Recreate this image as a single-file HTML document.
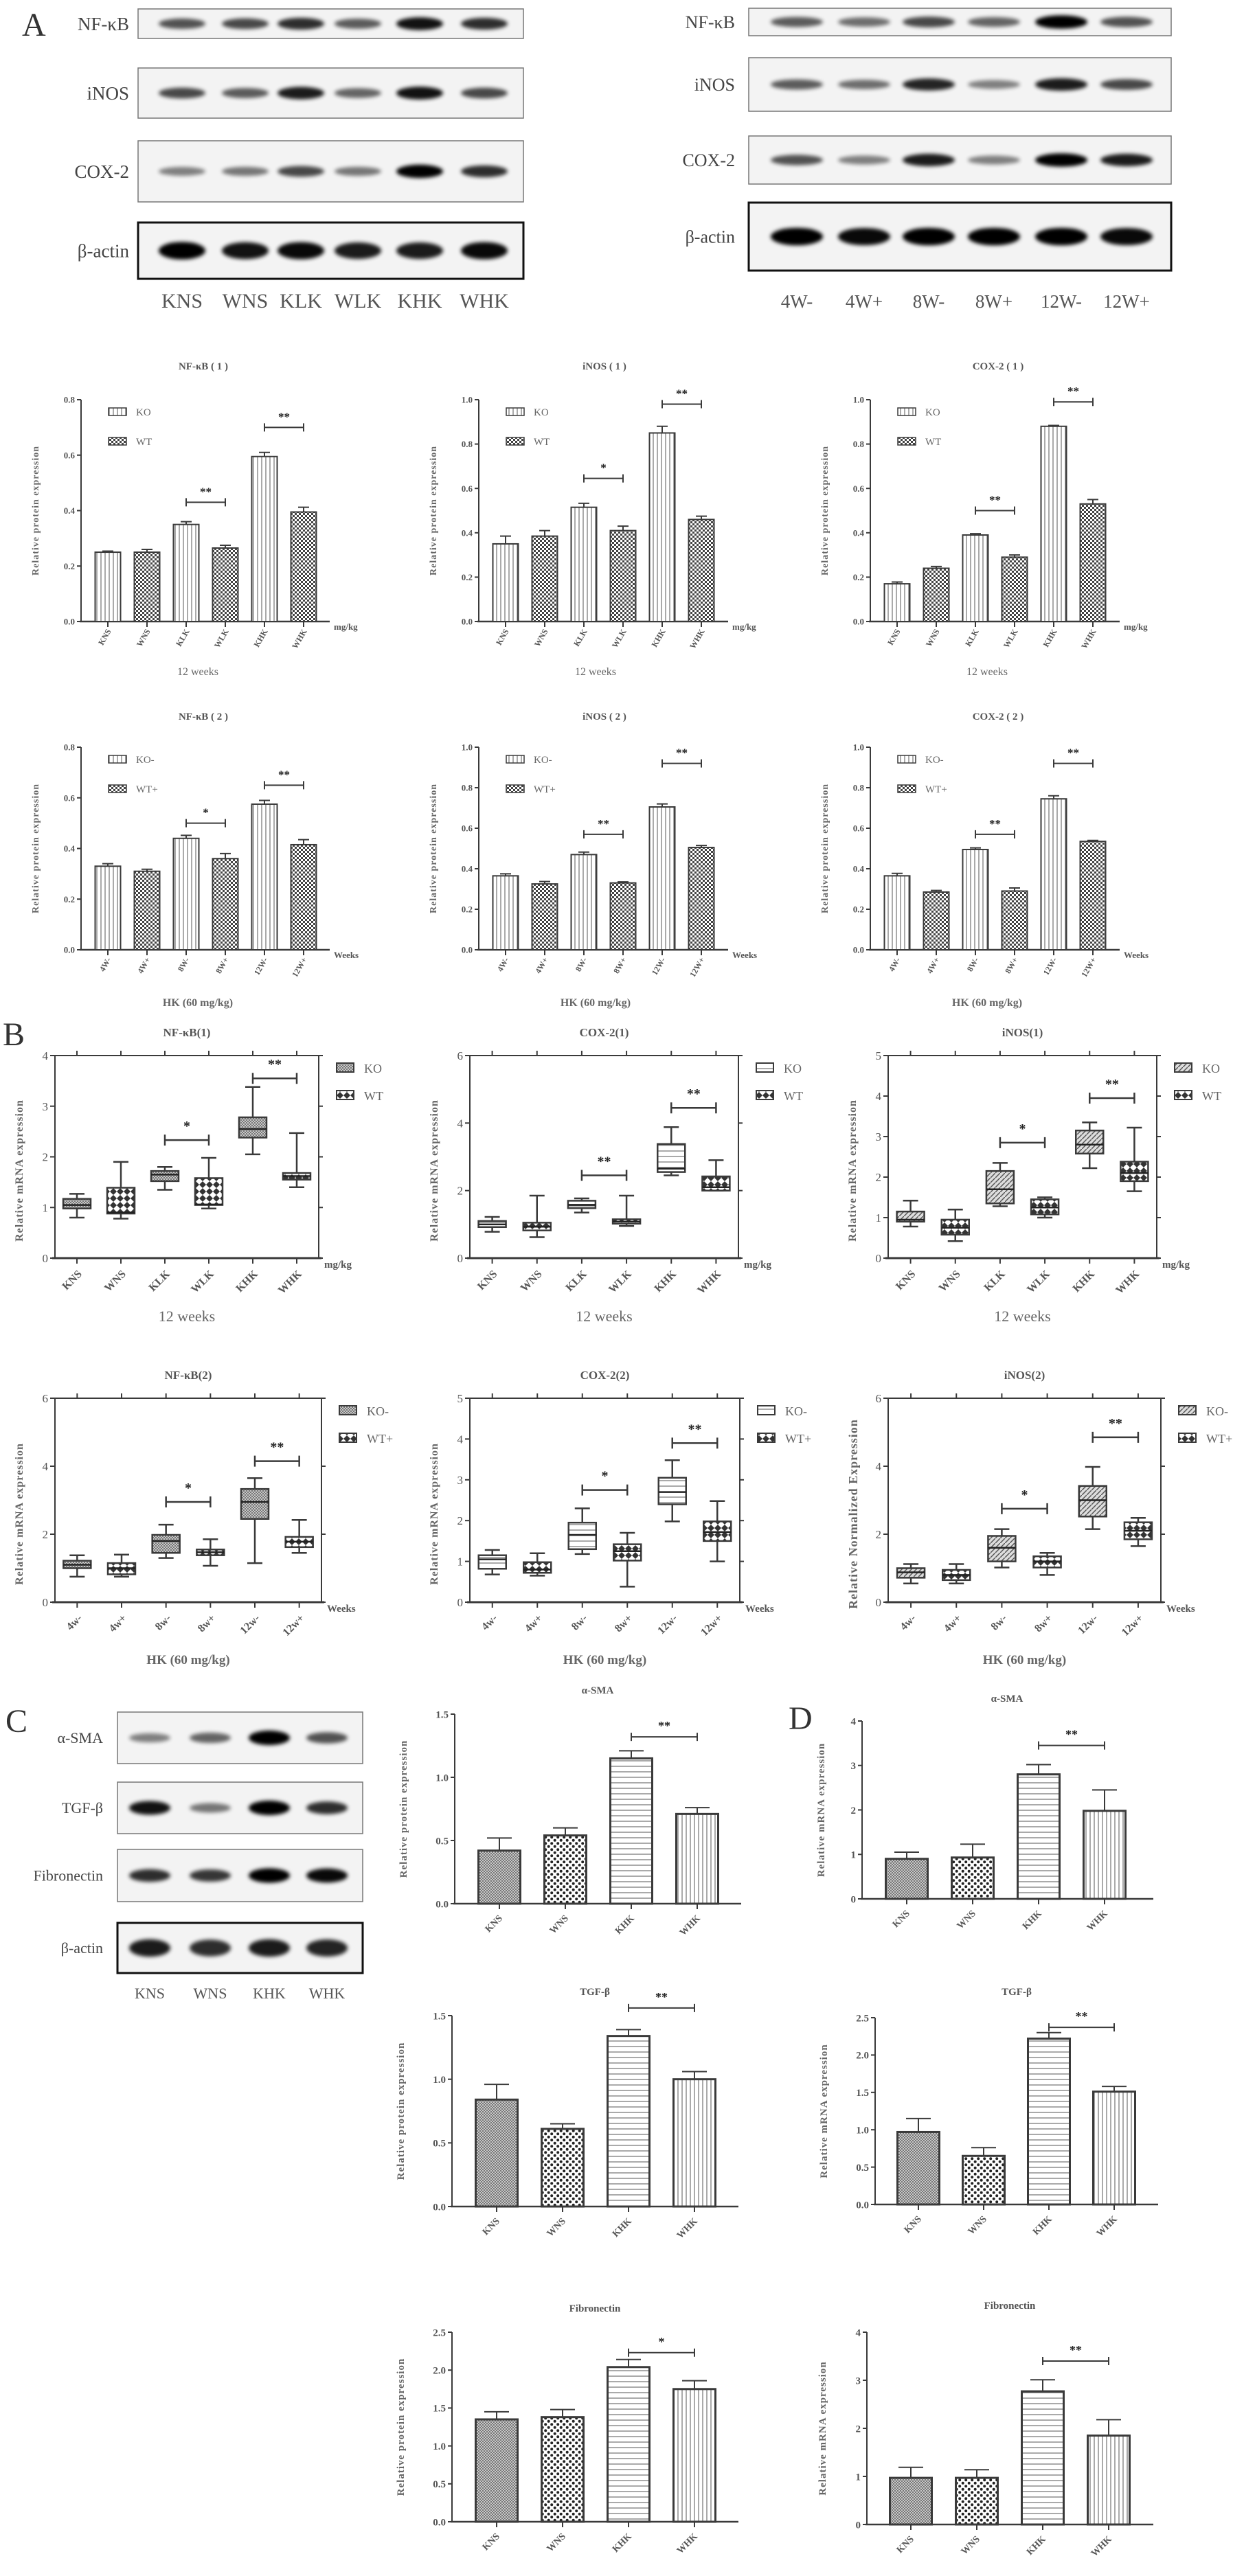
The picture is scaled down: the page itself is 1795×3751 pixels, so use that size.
<!DOCTYPE html>
<html><head><meta charset="utf-8"><title>Figure</title>
<style>
html,body{margin:0;padding:0;background:#fff;}
svg{display:block;}
text{font-family:"Liberation Serif",serif;}
</style></head>
<body>
<svg id="fig" xmlns="http://www.w3.org/2000/svg" width="1795" height="3751" viewBox="0 0 1795 3751">
<defs>
<filter id="blur" x="-50%" y="-200%" width="200%" height="500%"><feGaussianBlur stdDeviation="3"/></filter>
<pattern id="pV" width="6" height="6" patternUnits="userSpaceOnUse"><rect width="6" height="6" fill="#fff"/><line x1="3" y1="0" x2="3" y2="6" stroke="#555" stroke-width="1"/></pattern>
<pattern id="pH" width="8" height="8" patternUnits="userSpaceOnUse"><rect width="8" height="8" fill="#fff"/><line x1="0" y1="4" x2="8" y2="4" stroke="#555" stroke-width="1"/></pattern>
<pattern id="pChk" width="6" height="6" patternUnits="userSpaceOnUse"><rect width="6" height="6" fill="#fff"/><rect width="3" height="3" fill="#444"/><rect x="3" y="3" width="3" height="3" fill="#444"/></pattern>
<pattern id="pFine" width="4" height="4" patternUnits="userSpaceOnUse"><rect width="4" height="4" fill="#c8c8c8"/><rect width="2" height="2" fill="#777"/><rect x="2" y="2" width="2" height="2" fill="#777"/></pattern>
<pattern id="pDots" width="9" height="9" patternUnits="userSpaceOnUse"><rect width="9" height="9" fill="#fff"/><circle cx="2.2" cy="2.2" r="2" fill="#222"/><circle cx="6.7" cy="6.7" r="2" fill="#222"/></pattern>
<pattern id="pDiag" width="7" height="7" patternUnits="userSpaceOnUse"><rect width="7" height="7" fill="#ddd"/><line x1="0" y1="7" x2="7" y2="0" stroke="#555" stroke-width="1.5"/></pattern>
<pattern id="pBoxWT" width="10" height="10" patternUnits="userSpaceOnUse"><rect width="10" height="10" fill="#fff"/><path d="M5 0 L10 5 L5 10 L0 5Z" fill="#333"/></pattern>
</defs>
</svg>
<script>
// ---------------- DATA ----------------
const catsA1 = ['KNS','WNS','KLK','WLK','KHK','WHK'];
const catsA2 = ['4W-','4W+','8W-','8W+','12W-','12W+'];
const catsB2 = ['4w-','4w+','8w-','8w+','12w-','12w+'];
const catsCD = ['KNS','WNS','KHK','WHK'];
const legendA1 = ['KO','WT'];
const legendA2 = ['KO-','WT+'];

const nf1Vals = [0.25,0.25,0.35,0.265,0.595,0.395];
const nf1Errs = [0.004,0.01,0.01,0.01,0.015,0.017];
const nf1Brackets = [[2,3,0.43,'**'],[4,5,0.70,'**']];
const inos1Vals = [0.35,0.385,0.515,0.41,0.85,0.46];
const inos1Errs = [0.035,0.025,0.018,0.02,0.03,0.015];
const inos1Brackets = [[2,3,0.645,'*'],[4,5,0.98,'**']];
const cox1Vals = [0.17,0.24,0.39,0.29,0.88,0.53];
const cox1Errs = [0.008,0.008,0.006,0.01,0.004,0.02];
const cox1Brackets = [[2,3,0.50,'**'],[4,5,0.99,'**']];

const nf2Vals = [0.33,0.31,0.44,0.36,0.575,0.415];
const nf2Errs = [0.01,0.008,0.012,0.02,0.015,0.02];
const nf2Brackets = [[2,3,0.50,'*'],[4,5,0.65,'**']];
const inos2Vals = [0.365,0.325,0.47,0.33,0.705,0.505];
const inos2Errs = [0.01,0.012,0.012,0.005,0.015,0.01];
const inos2Brackets = [[2,3,0.57,'**'],[4,5,0.92,'**']];
const cox2Vals = [0.365,0.285,0.495,0.29,0.745,0.535];
const cox2Errs = [0.012,0.008,0.008,0.015,0.015,0.005];
const cox2Brackets = [[2,3,0.57,'**'],[4,5,0.92,'**']];

const ticksA08 = [0,0.2,0.4,0.6,0.8];
const ticksA10 = [0,0.2,0.4,0.6,0.8,1.0];

// box plots
const bNf1Lo=[0.8,0.78,1.35,0.98,2.05,1.4], bNf1Q1=[0.98,0.88,1.52,1.05,2.38,1.55], bNf1Med=[1.05,0.9,1.65,1.06,2.55,1.62], bNf1Q3=[1.17,1.39,1.72,1.58,2.78,1.68], bNf1Hi=[1.27,1.9,1.8,1.98,3.38,2.47];
const bNf1Br=[[2,3,2.33,'*'],[4,5,3.55,'**']];
const bCox1Lo=[0.78,0.62,1.35,0.95,2.45,2.0], bCox1Q1=[0.92,0.82,1.48,1.02,2.55,2.0], bCox1Med=[1.0,0.93,1.58,1.08,2.65,2.1], bCox1Q3=[1.1,1.05,1.7,1.15,3.38,2.42], bCox1Hi=[1.22,1.85,1.77,1.85,3.88,2.9];
const bCox1Br=[[2,3,2.45,'**'],[4,5,4.45,'**']];
const bInos1Lo=[0.78,0.42,1.28,1.0,2.22,1.65], bInos1Q1=[0.9,0.58,1.35,1.08,2.58,1.9], bInos1Med=[0.95,0.75,1.7,1.25,2.8,2.1], bInos1Q3=[1.15,0.95,2.15,1.45,3.15,2.38], bInos1Hi=[1.42,1.2,2.35,1.5,3.35,3.22];
const bInos1Br=[[2,3,2.85,'*'],[4,5,3.95,'**']];

const bNf2Lo=[0.75,0.75,1.3,1.07,1.15,1.45], bNf2Q1=[1.0,0.82,1.45,1.38,2.45,1.62], bNf2Med=[1.1,1.0,1.8,1.47,2.95,1.78], bNf2Q3=[1.22,1.15,1.98,1.55,3.33,1.92], bNf2Hi=[1.38,1.4,2.28,1.85,3.65,2.42];
const bNf2Br=[[2,3,2.95,'*'],[4,5,4.15,'**']];
const bCox2Lo=[0.68,0.65,1.18,0.38,1.98,1.0], bCox2Q1=[0.82,0.72,1.3,1.02,2.4,1.5], bCox2Med=[1.05,0.8,1.65,1.25,2.7,1.72], bCox2Q3=[1.15,0.98,1.95,1.42,3.05,1.98], bCox2Hi=[1.28,1.2,2.3,1.7,3.48,2.48];
const bCox2Br=[[2,3,2.75,'*'],[4,5,3.9,'**']];
const bInos2Lo=[0.55,0.55,1.02,0.8,2.15,1.65], bInos2Q1=[0.72,0.65,1.2,1.02,2.52,1.85], bInos2Med=[0.88,0.8,1.6,1.2,3.0,2.1], bInos2Q3=[1.0,0.95,1.95,1.35,3.42,2.35], bInos2Hi=[1.12,1.12,2.15,1.45,3.98,2.48];
const bInos2Br=[[2,3,2.75,'*'],[4,5,4.85,'**']];

const cAsmaVals=[0.42,0.54,1.15,0.71], cAsmaErrs=[0.1,0.06,0.06,0.05], cAsmaBr=[[2,3,1.32,'**']];
const cTgfVals=[0.84,0.61,1.34,1.0], cTgfErrs=[0.12,0.04,0.05,0.06], cTgfBr=[[2,3,1.56,'**']];
const cFibVals=[1.35,1.38,2.04,1.75], cFibErrs=[0.1,0.1,0.1,0.11], cFibBr=[[2,3,2.23,'*']];
const dAsmaVals=[0.9,0.93,2.8,1.98], dAsmaErrs=[0.15,0.3,0.22,0.47], dAsmaBr=[[2,3,3.45,'**']];
const dTgfVals=[0.97,0.65,2.22,1.51], dTgfErrs=[0.18,0.11,0.08,0.07], dTgfBr=[[2,3,2.37,'**']];
const dFibVals=[0.97,0.97,2.77,1.85], dFibErrs=[0.22,0.17,0.24,0.33], dFibBr=[[2,3,3.4,'**']];
const ticks15=[0,0.5,1.0,1.5], ticks25=[0,0.5,1.0,1.5,2.0,2.5], ticks4=[0,1,2,3,4];

// blot band intensities (visual)
const blotA1Names=['NF-κB','iNOS','COX-2','β-actin'];
const blotA1Int=[[0.55,0.6,0.75,0.5,0.9,0.75],[0.6,0.5,0.85,0.45,0.9,0.6],[0.3,0.35,0.6,0.35,1,0.75],[1,0.9,0.95,0.85,0.85,0.95]];
const blotA2Int=[[0.5,0.4,0.6,0.45,1,0.55],[0.5,0.4,0.8,0.3,0.85,0.6],[0.55,0.3,0.85,0.3,1,0.85],[1,0.95,1,1,1,0.95]];
const blotCNames=['α-SMA','TGF-β','Fibronectin','β-actin'];
const blotCInt=[[0.3,0.45,1,0.55],[0.9,0.35,1,0.75],[0.75,0.7,1,0.95],[0.85,0.75,0.85,0.8]];

// ---------------- HELPERS ----------------
const NS='http://www.w3.org/2000/svg';
const svg=document.getElementById('fig');
function mk(tag,a,p){const e=document.createElementNS(NS,tag);for(const k in a)e.setAttribute(k,a[k]);(p||svg).appendChild(e);return e;}
function txt(s,a,p){const e=mk('text',a,p);e.textContent=s;return e;}
const INK='#3a3a3a', TXT='#555';

// ---------------- BLOTS ----------------
function blot(cfg){
  const g=mk('g',{});
  
  
  cfg.rows.forEach((r,ri)=>{
    const last=ri===cfg.rows.length-1;
    const box=mk('rect',{x:cfg.x0,y:r[0],width:cfg.x1-cfg.x0,height:r[1]-r[0],fill:'#f3f3f3',stroke:last?'#111':'#777','stroke-width':last?3:1.5},g);
    
    
    const lb=txt(cfg.names[ri],{x:cfg.labelX,y:(r[0]+r[1])/2+cfg.fs*0.35,'text-anchor':'end','font-size':cfg.fs,fill:'#444'},g);
    
    
    cfg.lanes.forEach((lx,li)=>{
      const v=cfg.int[ri][li];
      const b=mk('ellipse',{cx:lx,cy:(r[0]+r[1])/2,rx:cfg.bw,ry:(last?8:5)+v*4*(cfg.bh||1),fill:'#000',opacity:0.25+0.75*v,filter:'url(#blur)'},g);
      
      
    });
  });
  cfg.laneLabels.forEach((s,li)=>{
    const t=txt(s,{x:cfg.lanes[li],y:cfg.laneY,'text-anchor':'middle','font-size':cfg.lfs,fill:'#555'},g);
    
    
  });
}

// ---------------- BAR CHART ----------------
function barChart(c){
  const g=mk('g',{});
  
  
  const y=v=>c.zero-v/c.max*(c.zero-c.top);
  const x=i=>c.x0+c.off+i*c.step;
  const t=txt(c.title,{x:c.titleX,y:c.titleY,'text-anchor':'middle','font-size':c.tfs,'font-weight':'bold',fill:TXT},g);
  
  
  const ax=mk('line',{x1:c.x0,y1:c.zero,x2:c.x0,y2:c.top,stroke:INK,'stroke-width':2},g);
  
  
  const bx=mk('line',{x1:c.x0-2,y1:c.zero,x2:c.x1,y2:c.zero,stroke:INK,'stroke-width':2.5},g);
  
  
  c.ticks.forEach(v=>{
    const tk=mk('line',{x1:c.x0-6,y1:y(v),x2:c.x0,y2:y(v),stroke:INK,'stroke-width':2},g);
    
    
    const tl=txt(v.toFixed(c.dec),{x:c.x0-9,y:y(v)+c.kfs*0.35,'text-anchor':'end','font-size':c.kfs,'font-weight':'bold',fill:TXT},g);
    
    
  });
  const yl=txt(c.ylabel,{x:c.x0-c.ylOff,y:(c.top+c.zero)/2,'text-anchor':'middle','font-size':c.yfs,'font-weight':'bold',fill:'#666','letter-spacing':c.yls||1,transform:`rotate(-90 ${c.x0-c.ylOff} ${(c.top+c.zero)/2})`},g);
  
  
  c.vals.forEach((v,i)=>{
    const r=mk('rect',{x:x(i)-c.bw/2,y:y(v),width:c.bw,height:c.zero-y(v),fill:`url(#${c.fills[i%c.fills.length]})`,stroke:INK,'stroke-width':c.sw||2},g);
    
    
    const e=mk('path',{d:`M${x(i)} ${y(v)} V${y(v+c.errs[i])} M${x(i)-c.cap} ${y(v+c.errs[i])} H${x(i)+c.cap}`,stroke:INK,'stroke-width':2,fill:'none'},g);
    
    
    const tk=mk('line',{x1:x(i),y1:c.zero,x2:x(i),y2:c.zero+8,stroke:INK,'stroke-width':2},g);
    
    
    const lx=x(i)+5, ly=c.zero+c.lDy;
    const cl=txt(c.cats[i],{x:lx,y:ly,'text-anchor':'end','font-size':c.cfs,'font-weight':'bold',fill:TXT,transform:`rotate(${c.rot} ${lx} ${ly})`},g);
    
    
  });
  c.brackets.forEach(b=>{
    const yy=y(b[2]);
    const p=mk('path',{d:`M${x(b[0])} ${yy-6} V${yy+6} M${x(b[0])} ${yy} H${x(b[1])} M${x(b[1])} ${yy-6} V${yy+6}`,stroke:INK,'stroke-width':2,fill:'none'},g);
    
    
    const s=txt(b[3],{x:(x(b[0])+x(b[1]))/2,y:yy-10,'text-anchor':'middle','font-size':c.sfs,'font-weight':'bold',fill:'#222'},g);
    
    
  });
  if(c.legend){
    c.legend.forEach((s,i)=>{
      const ly=c.top+18+i*43;
      const r=mk('rect',{x:c.x0+40,y:ly-6,width:26,height:11,fill:`url(#${c.fills[i]})`,stroke:INK,'stroke-width':1.5},g);
      
      
      const lt=txt(s,{x:c.x0+80,y:ly+5,'font-size':15,fill:'#666'},g);
      
      
    });
  }
  if(c.unit){
    const u=txt(c.unit,{x:c.x1+6,y:c.zero+12,'font-size':13,'font-weight':'bold',fill:TXT},g);
    
    
  }
  if(c.footer){
    const f=txt(c.footer,{x:c.x0+170,y:c.zero+c.fDy,'text-anchor':'middle','font-size':c.ffs,'font-weight':c.fb?'bold':'normal',fill:'#666'},g);
    
    
  }
}

// ---------------- BOX CHART ----------------
function boxChart(c){
  const g=mk('g',{});
  
  
  const y=v=>c.zero-v/c.max*(c.zero-c.top);
  const step=(c.x1-c.x0)/6;
  const x=i=>c.x0+step/2+i*step;
  const t=txt(c.title,{x:(c.x0+c.x1)/2,y:c.top-28,'text-anchor':'middle','font-size':17,'font-weight':'bold',fill:TXT},g);
  
  
  const fr=mk('rect',{x:c.x0,y:c.top,width:c.x1-c.x0,height:c.zero-c.top,fill:'none',stroke:INK,'stroke-width':2},g);
  
  
  const bx=mk('line',{x1:c.x0-4,y1:c.zero,x2:c.x1+4,y2:c.zero,stroke:INK,'stroke-width':3},g);
  
  
  c.ticks.forEach(v=>{
    const tk=mk('line',{x1:c.x0-7,y1:y(v),x2:c.x0,y2:y(v),stroke:INK,'stroke-width':2},g);
    
    
    const tr=mk('line',{x1:c.x1,y1:y(v),x2:c.x1+6,y2:y(v),stroke:INK,'stroke-width':2},g);
    
    
    const tl=txt(String(v),{x:c.x0-10,y:y(v)+6,'text-anchor':'end','font-size':17,fill:TXT},g);
    
    
  });
  const ylx=c.x0-c.ylOff;
  const yl=txt(c.ylabel,{x:ylx,y:(c.top+c.zero)/2+20,'text-anchor':'middle','font-size':c.yfs||16,'font-weight':'bold',fill:'#666','font-family':c.ysans?'Liberation Sans, sans-serif':'Liberation Serif, serif','letter-spacing':1,transform:`rotate(-90 ${ylx} ${(c.top+c.zero)/2+20})`},g);
  
  
  c.cats.forEach((s,i)=>{
    const cx=x(i), bw=40;
    const fill=i%2===0?c.koFill:'pBoxWT';
    const w=mk('path',{d:`M${cx} ${y(c.lo[i])} V${y(c.q1[i])} M${cx} ${y(c.q3[i])} V${y(c.hi[i])} M${cx-11} ${y(c.lo[i])} H${cx+11} M${cx-11} ${y(c.hi[i])} H${cx+11}`,stroke:INK,'stroke-width':2.5,fill:'none'},g);
    
    
    const b=mk('rect',{x:cx-bw/2,y:y(c.q3[i]),width:bw,height:y(c.q1[i])-y(c.q3[i]),fill:`url(#${fill})`,stroke:INK,'stroke-width':2.5},g);
    
    
    const m=mk('line',{x1:cx-bw/2,y1:y(c.med[i]),x2:cx+bw/2,y2:y(c.med[i]),stroke:'#222','stroke-width':2.5},g);
    
    
    const tk=mk('line',{x1:cx,y1:c.zero,x2:cx,y2:c.zero+8,stroke:INK,'stroke-width':2},g);
    
    
    const tt=mk('line',{x1:cx,y1:c.top,x2:cx,y2:c.top-7,stroke:INK,'stroke-width':2},g);
    
    
    const lx=cx+8, ly=c.zero+24;
    const cl=txt(s,{x:lx,y:ly,'text-anchor':'end','font-size':16,'font-weight':'bold',fill:TXT,transform:`rotate(-45 ${lx} ${ly})`},g);
    
    
  });
  c.brackets.forEach(b=>{
    const yy=y(b[2]);
    const p=mk('path',{d:`M${x(b[0])} ${yy-8} V${yy+8} M${x(b[0])} ${yy} H${x(b[1])} M${x(b[1])} ${yy-8} V${yy+8}`,stroke:INK,'stroke-width':2.5,fill:'none'},g);
    
    
    const s=txt(b[3],{x:(x(b[0])+x(b[1]))/2,y:yy-14,'text-anchor':'middle','font-size':20,'font-weight':'bold',fill:'#222'},g);
    
    
  });
  c.legend.forEach((s,i)=>{
    const ly=c.top+18+i*40;
    const r=mk('rect',{x:c.x1+26,y:ly-7,width:25,height:13,fill:`url(#${i===0?c.koFill:'pBoxWT'})`,stroke:INK,'stroke-width':2},g);
    
    
    const lt=txt(s,{x:c.x1+66,y:ly+7,'font-size':18,fill:'#666'},g);
    
    
  });
  const u=txt(c.unit,{x:c.x1+8,y:c.zero+14,'font-size':15,'font-weight':'bold',fill:TXT},g);
  
  
  const f=txt(c.footer,{x:(c.x0+c.x1)/2,y:c.zero+c.fDy,'text-anchor':'middle','font-size':c.ffs,'font-weight':c.fb?'bold':'normal',fill:'#666'},g);
  
  
}

// ---------------- PANEL LETTERS ----------------
[['A',32,52],['B',4,1522],['C',8,2522],['D',1148,2518]].forEach(p=>{
  const t=txt(p[0],{x:p[1],y:p[2],'font-size':48,fill:'#333'});
  
  
});

// ---------------- PANEL A BLOTS ----------------
blot({name:'blot-a-dose',x0:201,x1:762,rows:[[13,56],[99,172],[205,294],[324,406]],names:blotA1Names,labelX:188,fs:27,
  lanes:[265,357,438,521,611,705],int:blotA1Int,bw:34,bh:1.2,laneLabels:catsA1,laneY:448,lfs:30});
blot({name:'blot-a-time',x0:1090,x1:1705,rows:[[12,52],[84,162],[198,268],[295,394]],names:blotA1Names,labelX:1070,fs:26,
  lanes:[1160,1258,1352,1447,1545,1640],int:blotA2Int,bw:38,bh:1.2,laneLabels:catsA2,laneY:448,lfs:27});

// ---------------- PANEL A BAR CHARTS ----------------
const aCommon={max:1,off:39,step:57,bw:37,cap:8,dec:1,kfs:13,yfs:14,ylOff:62,tfs:15,cfs:12,sfs:17,rot:-60,lDy:14,fills:['pV','pChk'],ffs:16,fDy:78};
barChart(Object.assign({},aCommon,{name:'chart-nfkb-1',x0:118,x1:480,top:582,zero:905,max:0.8,ticks:ticksA08,title:'NF-κB ( 1 )',titleX:296,titleY:538,ylabel:'Relative protein expression',cats:catsA1,vals:nf1Vals,errs:nf1Errs,brackets:nf1Brackets,legend:legendA1,unit:'mg/kg',footer:'12 weeks'}));
barChart(Object.assign({},aCommon,{name:'chart-inos-1',x0:697,x1:1060,top:582,zero:905,ticks:ticksA10,title:'iNOS ( 1 )',titleX:880,titleY:538,ylabel:'Relative protein expression',cats:catsA1,vals:inos1Vals,errs:inos1Errs,brackets:inos1Brackets,legend:legendA1,unit:'mg/kg',footer:'12 weeks'}));
barChart(Object.assign({},aCommon,{name:'chart-cox2-1',x0:1267,x1:1630,top:582,zero:905,ticks:ticksA10,title:'COX-2 ( 1 )',titleX:1453,titleY:538,ylabel:'Relative protein expression',cats:catsA1,vals:cox1Vals,errs:cox1Errs,brackets:cox1Brackets,legend:legendA1,unit:'mg/kg',footer:'12 weeks'}));
barChart(Object.assign({},aCommon,{name:'chart-nfkb-2',x0:118,x1:480,top:1088,zero:1383,max:0.8,ticks:ticksA08,title:'NF-κB ( 2 )',titleX:296,titleY:1048,ylabel:'Relative protein expression',cats:catsA2,vals:nf2Vals,errs:nf2Errs,brackets:nf2Brackets,legend:legendA2,unit:'Weeks',footer:'HK  (60 mg/kg)',fb:true,fDy:82}));
barChart(Object.assign({},aCommon,{name:'chart-inos-2',x0:697,x1:1060,top:1088,zero:1383,ticks:ticksA10,title:'iNOS ( 2 )',titleX:880,titleY:1048,ylabel:'Relative protein expression',cats:catsA2,vals:inos2Vals,errs:inos2Errs,brackets:inos2Brackets,legend:legendA2,unit:'Weeks',footer:'HK  (60 mg/kg)',fb:true,fDy:82}));
barChart(Object.assign({},aCommon,{name:'chart-cox2-2',x0:1267,x1:1630,top:1088,zero:1383,ticks:ticksA10,title:'COX-2 ( 2 )',titleX:1453,titleY:1048,ylabel:'Relative protein expression',cats:catsA2,vals:cox2Vals,errs:cox2Errs,brackets:cox2Brackets,legend:legendA2,unit:'Weeks',footer:'HK  (60 mg/kg)',fb:true,fDy:82}));

// ---------------- PANEL B BOX CHARTS ----------------
boxChart({name:'box-nfkb-1',x0:80,x1:464,top:1537,zero:1832,max:4,ticks:[0,1,2,3,4],title:'NF-κB(1)',ylabel:'Relative mRNA expression',ylOff:47,cats:catsA1,lo:bNf1Lo,q1:bNf1Q1,med:bNf1Med,q3:bNf1Q3,hi:bNf1Hi,brackets:bNf1Br,koFill:'pFine',legend:legendA1,unit:'mg/kg',footer:'12 weeks',ffs:22,fDy:92});
boxChart({name:'box-cox2-1',x0:684,x1:1075,top:1537,zero:1832,max:6,ticks:[0,2,4,6],title:'COX-2(1)',ylabel:'Relative mRNA expression',ylOff:47,cats:catsA1,lo:bCox1Lo,q1:bCox1Q1,med:bCox1Med,q3:bCox1Q3,hi:bCox1Hi,brackets:bCox1Br,koFill:'pH',legend:legendA1,unit:'mg/kg',footer:'12 weeks',ffs:22,fDy:92});
boxChart({name:'box-inos-1',x0:1293,x1:1684,top:1537,zero:1832,max:5,ticks:[0,1,2,3,4,5],title:'iNOS(1)',ylabel:'Relative mRNA expression',ylOff:47,cats:catsA1,lo:bInos1Lo,q1:bInos1Q1,med:bInos1Med,q3:bInos1Q3,hi:bInos1Hi,brackets:bInos1Br,koFill:'pDiag',legend:legendA1,unit:'mg/kg',footer:'12 weeks',ffs:22,fDy:92});
boxChart({name:'box-nfkb-2',x0:80,x1:468,top:2036,zero:2333,max:6,ticks:[0,2,4,6],title:'NF-κB(2)',ylabel:'Relative mRNA expression',ylOff:47,cats:catsB2,lo:bNf2Lo,q1:bNf2Q1,med:bNf2Med,q3:bNf2Q3,hi:bNf2Hi,brackets:bNf2Br,koFill:'pFine',legend:legendA2,unit:'Weeks',footer:'HK  (60 mg/kg)',ffs:19,fb:true,fDy:90});
boxChart({name:'box-cox2-2',x0:684,x1:1077,top:2036,zero:2333,max:5,ticks:[0,1,2,3,4,5],title:'COX-2(2)',ylabel:'Relative mRNA expression',ylOff:47,cats:catsB2,lo:bCox2Lo,q1:bCox2Q1,med:bCox2Med,q3:bCox2Q3,hi:bCox2Hi,brackets:bCox2Br,koFill:'pH',legend:legendA2,unit:'Weeks',footer:'HK  (60 mg/kg)',ffs:19,fb:true,fDy:90});
boxChart({name:'box-inos-2',x0:1293,x1:1690,top:2036,zero:2333,max:6,ticks:[0,2,4,6],title:'iNOS(2)',ylabel:'Relative Normalized Expression',ysans:true,yfs:18,ylOff:45,cats:catsB2,lo:bInos2Lo,q1:bInos2Q1,med:bInos2Med,q3:bInos2Q3,hi:bInos2Hi,brackets:bInos2Br,koFill:'pDiag',legend:legendA2,unit:'Weeks',footer:'HK  (60 mg/kg)',ffs:19,fb:true,fDy:90});

// ---------------- PANEL C BLOT ----------------
blot({name:'blot-c',x0:171,x1:528,rows:[[2493,2568],[2595,2670],[2693,2769],[2800,2873]],names:blotCNames,labelX:150,fs:22,
  lanes:[218,306,392,476],int:blotCInt,bw:30,bh:1.4,laneLabels:catsCD,laneY:2910,lfs:22});

// ---------------- PANEL C/D BAR CHARTS ----------------
const cdCommon={off:65,step:96,bw:61,cap:18,dec:1,kfs:15,yfs:15,tfs:15,cfs:14,sfs:18,rot:-45,lDy:22,fills:['pFine','pDots','pH','pV'],sw:3};
barChart(Object.assign({},cdCommon,{name:'chart-c-asma',x0:662,x1:1079,top:2496,zero:2772,max:1.5,ticks:ticks15,title:'α-SMA',titleX:870,titleY:2466,ylabel:'Relative protein expression',ylOff:70,cats:catsCD,vals:cAsmaVals,errs:cAsmaErrs,brackets:cAsmaBr}));
barChart(Object.assign({},cdCommon,{name:'chart-c-tgfb',x0:658,x1:1075,top:2935,zero:3213,max:1.5,ticks:ticks15,title:'TGF-β',titleX:866,titleY:2905,ylabel:'Relative protein expression',ylOff:70,cats:catsCD,vals:cTgfVals,errs:cTgfErrs,brackets:cTgfBr}));
barChart(Object.assign({},cdCommon,{name:'chart-c-fibronectin',x0:658,x1:1075,top:3396,zero:3672,max:2.5,ticks:ticks25,title:'Fibronectin',titleX:866,titleY:3366,ylabel:'Relative protein expression',ylOff:70,cats:catsCD,vals:cFibVals,errs:cFibErrs,brackets:cFibBr}));
barChart(Object.assign({},cdCommon,{name:'chart-d-asma',x0:1255,x1:1679,top:2506,zero:2765,max:4,ticks:ticks4,dec:0,title:'α-SMA',titleX:1466,titleY:2478,ylabel:'Relative mRNA expression',ylOff:55,cats:catsCD,vals:dAsmaVals,errs:dAsmaErrs,brackets:dAsmaBr}));
barChart(Object.assign({},cdCommon,{name:'chart-d-tgfb',x0:1274,x1:1686,off:63,step:95,top:2938,zero:3210,max:2.5,ticks:ticks25,title:'TGF-β',titleX:1480,titleY:2905,ylabel:'Relative mRNA expression',ylOff:70,cats:catsCD,vals:dTgfVals,errs:dTgfErrs,brackets:dTgfBr}));
barChart(Object.assign({},cdCommon,{name:'chart-d-fibronectin',x0:1262,x1:1679,off:64,top:3396,zero:3676,max:4,ticks:ticks4,dec:0,title:'Fibronectin',titleX:1470,titleY:3362,ylabel:'Relative mRNA expression',ylOff:60,cats:catsCD,vals:dFibVals,errs:dFibErrs,brackets:dFibBr}));
</script>
</body></html>
